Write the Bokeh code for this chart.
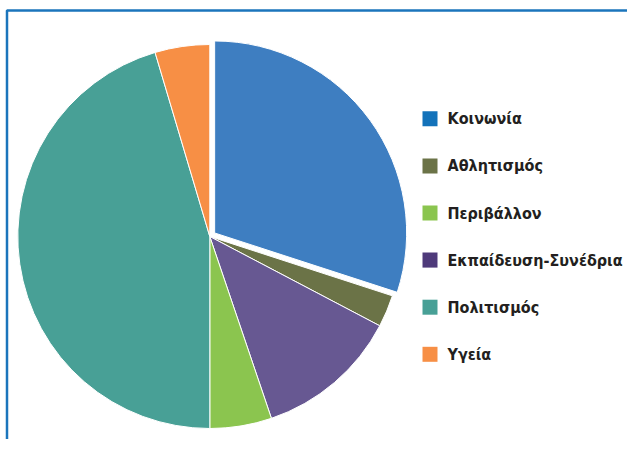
import math
from bokeh.plotting import figure
from bokeh.models import Range1d, ColumnDataSource
from bokeh.core.properties import value
from bokeh.embed import file_html
from bokeh.resources import INLINE

# ---- data ----
categories = ["Κοινωνία", "Αθλητισμός", "Εκπαίδευση-Συνέδρια", "Περιβάλλον", "Πολιτισμός", "Υγεία"]
shares = [30.0, 2.7, 12.1, 5.2, 45.4, 4.6]
legend_order = ["Κοινωνία", "Αθλητισμός", "Περιβάλλον", "Εκπαίδευση-Συνέδρια", "Πολιτισμός", "Υγεία"]

# ---- styles ----
slice_colors = {"Κοινωνία": "#3E7EC1", "Αθλητισμός": "#6B7347", "Εκπαίδευση-Συνέδρια": "#675892",
                "Περιβάλλον": "#8BC54F", "Πολιτισμός": "#48A096", "Υγεία": "#F78F45"}
legend_colors = {"Κοινωνία": "#1372BA", "Αθλητισμός": "#6B7347", "Περιβάλλον": "#8BC54F",
                 "Εκπαίδευση-Συνέδρια": "#4E3A7A", "Πολιτισμός": "#48A096", "Υγεία": "#F78F45"}
explode = {"Κοινωνία": 6.0}

W, H = 627, 439
p = figure(width=W, height=H, output_backend="svg", toolbar_location=None,
           x_range=Range1d(0, W), y_range=Range1d(455 - H, 455),
           min_border=0, outline_line_color=None)
p.axis.visible = False
p.grid.visible = False

def py(y):  # picture y -> data y
    return 455 - y

cx, cy, r = 209.3, py(236), 192

total = sum(shares)
xs, ys, starts, ends, cols = [], [], [], [], []
cum = 0.0
for name, v in zip(categories, shares):
    a0 = math.pi / 2 - 2 * math.pi * cum / total
    cum += v
    a1 = math.pi / 2 - 2 * math.pi * cum / total
    mid = (a0 + a1) / 2
    off = explode.get(name, 0.0)
    xs.append(cx + off * math.cos(mid))
    ys.append(cy + off * math.sin(mid))
    starts.append(a0)
    ends.append(a1)
    cols.append(slice_colors[name])

src = ColumnDataSource(dict(x=xs, y=ys, s=starts, e=ends, c=cols))
p.wedge(x="x", y="y", radius=r, start_angle="s", end_angle="e", direction="clock",
        fill_color="c", line_color="white", line_width=1, source=src)

# legend
lx, ly0, dy = 429.5, 118.3, 47.1
lsrc = ColumnDataSource(dict(
    x=[lx] * len(legend_order),
    y=[py(ly0 + i * dy) for i in range(len(legend_order))],
    tx=[lx + 17.5] * len(legend_order),
    c=[legend_colors[n] for n in legend_order],
    t=legend_order))
p.rect(x="x", y="y", width=15, height=15, fill_color="c", line_color=None, source=lsrc)
p.text(x="tx", y="y", text="t", text_font=value("DejaVu Sans Condensed"), text_font_style="bold",
       text_font_size="16px", text_color="#231F20", text_baseline="middle", text_align="left",
       source=lsrc)

# frame (left and top edges)
p.line([6.5, 6.5, W], [0, py(10), py(10)], line_color="#1B75BC", line_width=2.5)

open("out.html", "w").write(file_html(p, INLINE))
